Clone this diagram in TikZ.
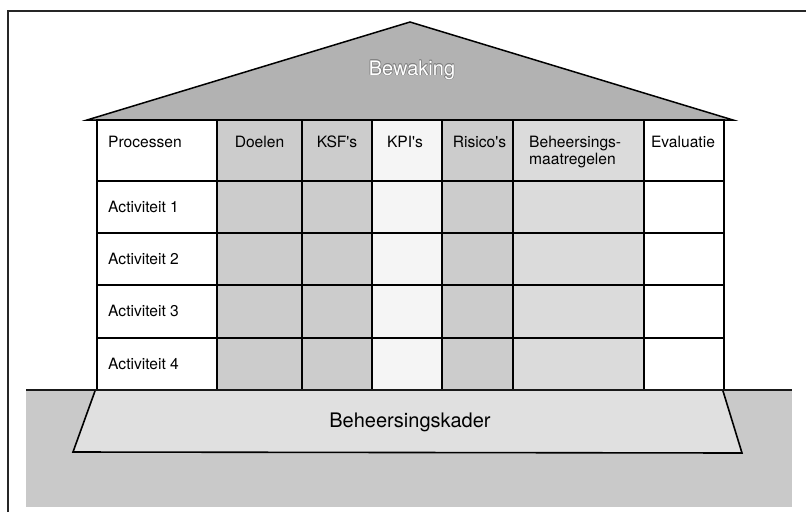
\documentclass[tikz,border=0pt]{standalone}
\usepackage{fontspec}
\setmainfont{TeX Gyre Heros}
\usetikzlibrary{calc}

\definecolor{roofgray}{gray}{0.70}
\definecolor{midgray}{gray}{0.80}
\definecolor{lightgray}{gray}{0.86}
\definecolor{palegray}{gray}{0.96}
\definecolor{groundgray}{gray}{0.79}
\definecolor{basegray}{gray}{0.88}

\tikzset{
  frameline/.style={line width=1.3pt, black!85},
  cellbox/.style={draw=black, line width=1.4pt, rectangle, inner sep=0pt, outer sep=0pt},
  lbl/.style={inner sep=0pt, font=\fontsize{15.6pt}{16.8pt}\selectfont},
  biglbl/.style={inner sep=0pt, font=\fontsize{20pt}{22pt}\selectfont},
}

\begin{document}
\begin{tikzpicture}[x=1pt, y=-1pt]
\useasboundingbox (0,0) rectangle (806,512);

% outer frame (top and left edges)
\coordinate (fr-tl) at (8,11);
\coordinate (fr-tr) at (806,11);
\coordinate (fr-bl) at (8,512);
\draw[frameline] (fr-bl) -- (fr-tl) -- (fr-tr);

% roof
\coordinate (roof-l) at (87,120);
\coordinate (roof-r) at (733,120);
\coordinate (roof-t) at (410,22);
\draw[line width=1.5pt, fill=roofgray, line join=miter] (roof-l) -- (roof-t) -- (roof-r) -- cycle;

% table cells
\foreach \c/\xl/\xr/\f in {0/97/217/white, 1/217/302/midgray, 2/302/372/midgray,
                           3/372/442/palegray, 4/442/513/midgray, 5/513/644/lightgray,
                           6/644/724/white}{
  \foreach \r/\yt/\yb in {0/120/181, 1/181/233, 2/233/285, 3/285/338, 4/338/390}{
    \node[cellbox, fill=\f, anchor=north west,
          minimum width={(\xr-\xl)*1pt}, minimum height={(\yb-\yt)*1pt}]
      (c\c-\r) at (\xl,\yt) {};
  }
}

% ground
\node[rectangle, fill=groundgray, inner sep=0pt, outer sep=0pt, anchor=north west,
      minimum width=766pt, minimum height=117pt] (ground) at (26,390) {};
\draw[line width=2.6pt, black!90] (ground.north west) -- (ground.north east);

% foundation
\coordinate (fd-tl) at (95,391);
\coordinate (fd-tr) at (723,391);
\coordinate (fd-br) at (742,453);
\coordinate (fd-bl) at (73,452);
\fill[basegray] (fd-tl) -- (fd-tr) -- (fd-br) -- (fd-bl) -- cycle;
\draw[line width=1.6pt, line join=miter] (fd-tl) -- (fd-bl) -- (fd-br) -- (fd-tr);
\node[biglbl] (kader) at (410,422) {Beheersingskader};

% roof label, white letters with a thin grey outline
\foreach \dx/\dy in {0.6/0, -0.6/0, 0/0.6, 0/-0.6, 0.42/0.42, -0.42/0.42, 0.42/-0.42, -0.42/-0.42}{
  \node[biglbl, text=black!50] at (412+\dx,70+\dy) {Bewaking};
}
\node[biglbl, text=white] (bewaking) at (412,70) {Bewaking};

% header labels
\node[lbl, anchor=base west] (h-proc) at ($(c0-0.north west)+(11,27)$) {Processen};
\node[lbl, anchor=base] (h-doel) at ($(c1-0.north)+(0,27)$) {Doelen};
\node[lbl, anchor=base] (h-ksf) at ($(c2-0.north)+(0,27)$) {KSF\textquotesingle s};
\node[lbl, anchor=base] (h-kpi) at ($(c3-0.north)+(-2,27)$) {KPI\textquotesingle s};
\node[lbl, anchor=base] (h-ris) at ($(c4-0.north)+(2,27)$) {Risico\textquotesingle s};
\node[lbl, anchor=north west, align=left] (h-beh) at ($(c5-0.north west)+(16,16)$) {Beheersings-\\maatregelen};
\node[lbl, anchor=base] (h-eval) at ($(c6-0.north)+(-1,27)$) {Evaluatie};

% row labels
\foreach \r in {1,2,3,4}{
  \node[lbl, anchor=base west] (act\r) at ($(c0-\r.west)+(11,5)$) {Activiteit \r};
}
\end{tikzpicture}
\end{document}
